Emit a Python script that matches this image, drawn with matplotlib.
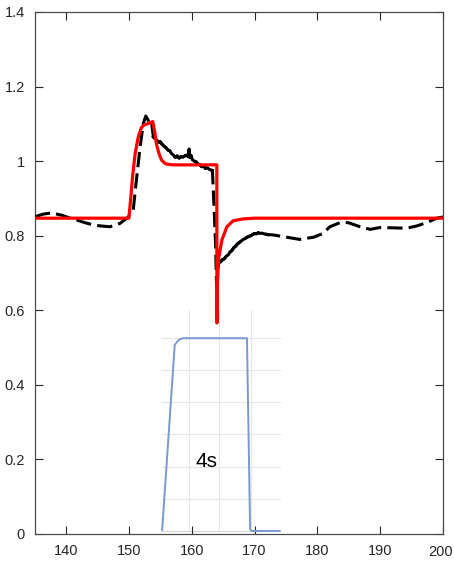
import numpy as np
import matplotlib.pyplot as plt

# Respuesta simulada (rojo)
t_sim = [135, 150.0, 150.3, 150.6, 151.0, 151.5, 152.0, 152.5, 153.0, 153.5, 153.8,
         154.1, 154.4, 154.8, 155.2, 155.6, 156.0, 157.0, 164.0, 164.02, 164.1,
         164.25, 164.8, 165.6, 166.6, 168.2, 170.0, 200]
y_sim = [0.847, 0.847, 0.90, 0.96, 1.02, 1.065, 1.09, 1.098, 1.10, 1.104, 1.106,
         1.08, 1.045, 1.02, 1.003, 0.996, 0.992, 0.99, 0.99, 0.566, 0.673,
         0.735, 0.788, 0.824, 0.840, 0.845, 0.847, 0.847]

# Respuesta medida (negro)
t_med = [135.1, 136.4, 137.7, 139.3, 140.5, 141.7, 143.0, 144.3, 145.6, 147.0, 148.6, 149.9,
         150.7, 151.2, 151.8, 152.3, 152.7, 153.3, 153.6,
         153.9, 154.2, 154.5, 154.8, 155.0, 155.3, 155.6, 155.9, 156.2, 156.5, 156.8,
         157.1, 157.4, 157.7, 158.0, 158.3, 158.6, 158.9, 159.2, 159.4, 159.6, 159.7,
         159.9, 160.1, 160.4, 160.7, 161.0, 161.3, 161.6, 161.9, 162.2, 162.5, 162.8,
         163.1, 163.3,
         163.6, 163.8, 163.9, 164.0, 164.15,
         164.3, 164.6, 164.9, 165.2, 165.5, 165.8, 166.1, 166.4, 166.7, 167.0, 167.3,
         167.6, 167.9, 168.2, 168.5, 168.8, 169.1, 169.4, 169.7, 170.0, 170.3, 170.6,
         170.9, 171.2, 171.5, 171.8, 172.1,
         173.0, 175.1, 177.2, 179.4, 180.9, 182.0, 183.6, 184.9, 186.8, 188.4, 190.0,
         192.1, 194.2, 195.8, 197.4, 199.0, 200.0]
y_med = [0.851, 0.858, 0.861, 0.855, 0.848, 0.842, 0.835, 0.829, 0.826, 0.824, 0.833, 0.850,
         0.869, 0.949, 1.039, 1.101, 1.121, 1.103, 1.106,
         1.065, 1.060, 1.055, 1.050, 1.052, 1.045, 1.040, 1.036, 1.030, 1.028, 1.020,
         1.016, 1.010, 1.014, 1.008, 1.012, 1.011, 1.014, 1.016, 1.012, 1.032, 1.010,
         1.015, 1.004, 1.000, 0.998, 0.992, 0.990, 0.985, 0.988, 0.980, 0.982, 0.978,
         0.976, 0.975,
         0.86, 0.78, 0.70, 0.645, 0.70,
         0.728, 0.730, 0.736, 0.738, 0.745, 0.748, 0.756, 0.760, 0.768, 0.772, 0.778,
         0.782, 0.786, 0.790, 0.792, 0.796, 0.798, 0.800, 0.803, 0.806, 0.805, 0.808,
         0.806, 0.807, 0.805, 0.804, 0.803,
         0.802, 0.796, 0.790, 0.796, 0.806, 0.824, 0.835, 0.835, 0.824, 0.817, 0.822,
         0.821, 0.820, 0.826, 0.835, 0.847, 0.850]

# Pulso (azul)
t_pulso = [155.3, 157.3, 157.8, 158.2, 158.7, 168.8, 169.3, 169.6, 174.0]
y_pulso = [0.010, 0.507, 0.518, 0.523, 0.525, 0.525, 0.012, 0.008, 0.008]

x_ticks = [140, 150, 160, 170, 180, 190, 200]
y_ticks = [0, 0.2, 0.4, 0.6, 0.8, 1, 1.2, 1.4]
y_etiquetas = ['0', '0.2', '0.4', '0.6', '0.8', '1', '1.2', '1.4']

fuente = ['Liberation Sans', 'DejaVu Sans']

fig = plt.figure(figsize=(4.54, 5.65), dpi=100)
ax = fig.add_axes([0.0762, 0.0549, 0.8996, 0.9239])

# rejilla tenue del recuadro del pulso
for xg in [159.6, 164.3, 169.4]:
    ax.plot([xg, xg], [0.008, 0.60], color='#e6e6e6', lw=0.8, zorder=1)
for yg in [0.094, 0.18, 0.267, 0.355, 0.44, 0.525]:
    ax.plot([155.2, 174.1], [yg, yg], color='#e6e6e6', lw=0.8, zorder=1)
ax.plot([155.2, 174.1], [0.008, 0.008], color='#d4d4d4', lw=0.8, zorder=1)

ax.plot(t_pulso, y_pulso, color='#7b98cf', lw=1.4, zorder=2)

t_med = np.array(t_med)
y_med = np.array(y_med)
ax.plot(t_med, y_med, color='black', lw=2.2, linestyle=(0, (5, 2)), zorder=3)
tramo1 = (t_med >= 153.9) & (t_med <= 163.3)
tramo2 = (t_med >= 164.3) & (t_med <= 172.1)
ax.plot(t_med[tramo1], y_med[tramo1], color='black', lw=2.2, zorder=3)
ax.plot(t_med[tramo2], y_med[tramo2], color='black', lw=2.2, zorder=3)

ax.plot(t_sim, y_sim, color='red', lw=2.3, zorder=4)

ax.text(162.4, 0.194, '4s', fontsize=15, family=fuente, ha='center', va='center')

ax.set_xlim(135, 200)
ax.set_ylim(0, 1.4)
ax.set_xticks(x_ticks)
# la ultima etiqueta se dibuja aparte para que no se corte en el borde
ax.set_xticklabels([str(v) for v in x_ticks[:-1]] + [''])
ax.text(199.6, -0.0285, str(x_ticks[-1]), fontsize=10.5, family=fuente,
        color='#262626', ha='center', va='top', clip_on=False)
ax.set_yticks(y_ticks)
ax.set_yticklabels(y_etiquetas)
ax.tick_params(direction='in', length=6, width=0.8, top=True, right=True,
               colors='#262626', labelsize=10.5, pad=7)
for lab in ax.get_xticklabels() + ax.get_yticklabels():
    lab.set_family(fuente)
for s in ax.spines.values():
    s.set_color('#4a4a4a')
    s.set_linewidth(0.9)

fig.savefig('out.png', dpi=100)
